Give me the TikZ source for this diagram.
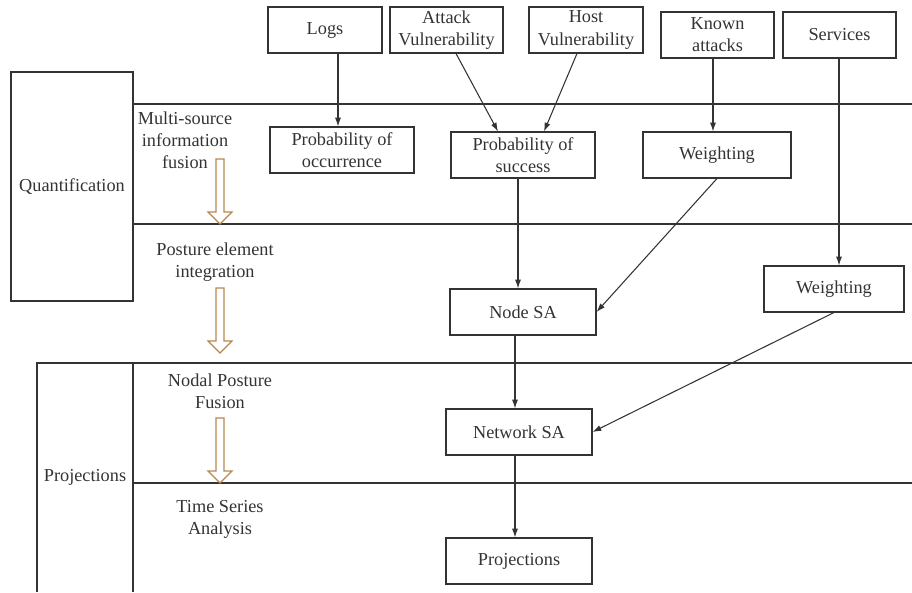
\documentclass[tikz,border=0pt]{standalone}
\usepackage{fontspec}
\setmainfont{Liberation Serif}
\usetikzlibrary{arrows.meta}
\usetikzlibrary{positioning}
\definecolor{linegray}{HTML}{333333}
\definecolor{flowbrown}{HTML}{B9864E}

\begin{document}
\begin{tikzpicture}[
  x=0.02cm, y=-0.02cm,
  every node/.style={font=\fontsize{10.4}{12.6}\selectfont, text=linegray},
  > = {Latex[length=5pt,width=3.4pt]},
  box/.style = {draw=linegray, line width=0.6pt, minimum height=0.92cm, align=center, inner sep=0pt},
  band/.style = {draw=linegray, line width=0.6pt},
  link/.style = {->, draw=linegray, line width=0.6pt},
  hollow/.style = {draw=flowbrown, line width=0.7pt, fill=white}
  ]
	\useasboundingbox (0,0) rectangle (912,592);

	% stages on the left
	\node[box, minimum width=2.44cm, minimum height=4.58cm] (quant) at (72,186.5) {Quantification};
	\draw[band] (37,592) |- (133,363) -- (133,592);
	\node (proj) at (85,477) {Projections};

	% separating lines
	\foreach \y in {104,224,363,483}
		\draw[band] (133,\y) -- (912,\y);

	% phase labels
	\node[align=center] (fusion) at (185,140) {Multi-source\\information\\fusion};
	\node[align=center] (integ) at (215,262) {Posture element\\integration};
	\node[align=center] (nodal) at (220,391) {Nodal Posture\\Fusion};
	\node[align=center] (tseries) at (220,519) {Time Series\\Analysis};

	% hollow flow arrows
	\foreach \t in {159,288,418}
		\draw[hollow] (216,\t) -- (224,\t) -- (224,\t+53) -- (232,\t+53) -- (220,\t+65)
			-- (208,\t+53) -- (216,\t+53) -- cycle;

	% sources
	\node[box, minimum width=2.28cm] (logs) at (325,30) {Logs};
	\node[box, minimum width=2.26cm] (attvul) at (446.5,30) {Attack\\Vulnerability};
	\node[box, minimum width=2.28cm] (hostvul) at (586,30) {Host\\Vulnerability};
	\node[box, minimum width=2.26cm] (known) at (717.5,35) {Known\\attacks};
	\node[box, minimum width=2.26cm] (serv) at (839.5,35) {Services};

	% derived quantities
	\node[box, minimum width=2.88cm] (occur) at (342,150) {Probability of\\occurrence};
	\node[box, minimum width=2.88cm] (succ) at (523,155) {Probability of\\success};
	\node[box, minimum width=2.96cm] (wone) at (717,155) {Weighting};
	\node[box, minimum width=2.80cm] (wtwo) at (834,289) {Weighting};
	\node[box, minimum width=2.92cm] (nodesa) at (523,312) {Node SA};
	\node[box, minimum width=2.92cm] (netsa) at (519,432) {Network SA};
	\node[box, minimum width=2.92cm] (projbox) at (519,561) {Projections};

	% connectors
	\draw[link] (logs.south -| 338,0) -- (occur.north -| 338,0);
	\draw[link] (attvul.south -| 456,0) -- (succ.north -| 498,0);
	\draw[link] (hostvul.south -| 577,0) -- (succ.north -| 544,0);
	\draw[link] (known.south -| 713,0) -- (wone.north -| 713,0);
	\draw[link] (serv.south -| 839,0) -- (wtwo.north -| 839,0);
	\draw[link] (succ.south -| 518,0) -- (nodesa.north -| 518,0);
	\draw[link] (wone.south) -- (nodesa.east);
	\draw[link] (nodesa.south -| 515,0) -- (netsa.north -| 515,0);
	\draw[link] (wtwo.south) -- (netsa.east);
	\draw[link] (netsa.south -| 515,0) -- (projbox.north -| 515,0);

\end{tikzpicture}
\end{document}
